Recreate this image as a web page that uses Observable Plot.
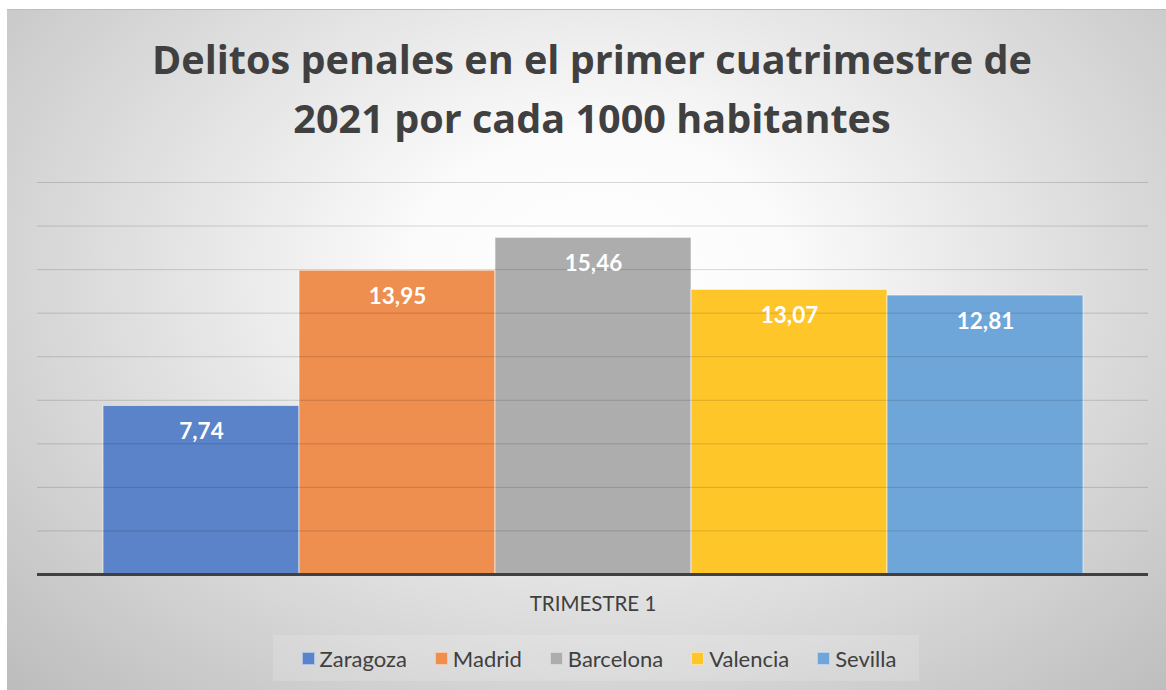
<!DOCTYPE html>
<html>
<head>
<meta charset="utf-8">
<script src="https://cdn.jsdelivr.net/npm/d3@7"></script>
<script src="https://cdn.jsdelivr.net/npm/@observablehq/plot@0.6"></script>
<style>
  html, body { margin: 0; padding: 0; background: #ffffff; width: 1166px; height: 690px; overflow: hidden; }
  #frame {
    position: absolute; left: 7px; top: 9px; width: 1159px; height: 681px;
    border-top: 1px solid #bdbdbd;
    background: radial-gradient(ellipse farthest-corner at 51% 38%, #ffffff 0%, #fbfbfb 22%, #bcbcbc 100%);
    font-family: Lato, "Open Sans", sans-serif;
  }
  .tline {
    position: absolute; left: -15px; width: 1200px; text-align: center;
    font-family: "Open Sans", sans-serif;
    font-weight: 700; font-size: 39.6px; line-height: 1.2; color: #404040; white-space: nowrap;
  }
  #chart { position: absolute; left: -7px; top: 141px; }
  #legend {
    position: absolute; left: 266px; top: 625px; width: 640px; height: 46px;
    background: rgba(255,255,255,0.15);
    display: flex; justify-content: center; align-items: center; padding-left: 6px;
    font-size: 22px; color: #404040;
  }
  .item { display: flex; align-items: center; margin: 0 14px; }
  .sw { width: 13px; height: 13px; margin-right: 5px; box-sizing: border-box; border: 1px solid rgba(255,255,255,0.5); }
</style>
</head>
<body>
<div id="frame">
  <div class="tline" id="t1" style="top:26px"></div>
  <div class="tline" id="t2" style="top:85px"></div>
  <div id="chart"></div>
  <div id="legend"></div>
</div>
<script>
const titleLines = ["Delitos penales en el primer cuatrimestre de", "2021 por cada 1000 habitantes"];
const cities = ["Zaragoza", "Madrid", "Barcelona", "Valencia", "Sevilla"];
const values = [7.74, 13.95, 15.46, 13.07, 12.81];
const colors = ["#5a83c9", "#ee8e4f", "#adadad", "#ffc62a", "#6fa6d9"];
const gridValues = [2, 4, 6, 8, 10, 12, 14, 16, 18];
const categoryLabel = "TRIMESTRE 1";

document.getElementById("t1").textContent = titleLines[0];
document.getElementById("t2").textContent = titleLines[1];

const data = cities.map((c, i) => ({city: c, value: values[i]}));
const fmt = v => v.toFixed(2).replace(".", ",");

const chart = Plot.plot({
  width: 1166,
  height: 470,
  marginLeft: 37,
  marginRight: 18,
  marginTop: 31,
  marginBottom: 47,
  style: {background: "transparent", fontFamily: "Lato, 'Open Sans', sans-serif"},
  x: {domain: cities, axis: null, paddingInner: 0, paddingOuter: 0.3285},
  y: {domain: [0, 18], axis: null},
  color: {domain: cities, range: colors},
  marks: [
    Plot.barY(data, {x: "city", y: "value", fill: "city", stroke: "#ffffff", strokeOpacity: 0.6, strokeWidth: 1}),
    Plot.ruleY(gridValues, {stroke: "#000000", strokeOpacity: 0.15, strokeWidth: 1}),
    Plot.ruleY([0], {stroke: "#404040", strokeWidth: 3}),
    Plot.text(data, {x: "city", y: "value", text: d => fmt(d.value), fill: "#ffffff", fontWeight: 700, fontSize: 22.5, lineAnchor: "top", dy: 17}),
    Plot.text([categoryLabel], {frameAnchor: "bottom", lineAnchor: "middle", dy: 30, fill: "#404040", fontSize: 20.5})
  ]
});
document.getElementById("chart").appendChild(chart);

const legend = document.getElementById("legend");
cities.forEach((c, i) => {
  const it = document.createElement("div");
  it.className = "item";
  const sw = document.createElement("div");
  sw.className = "sw";
  sw.style.background = colors[i];
  const lb = document.createElement("span");
  lb.textContent = c;
  it.appendChild(sw); it.appendChild(lb);
  legend.appendChild(it);
});
</script>
</body>
</html>
